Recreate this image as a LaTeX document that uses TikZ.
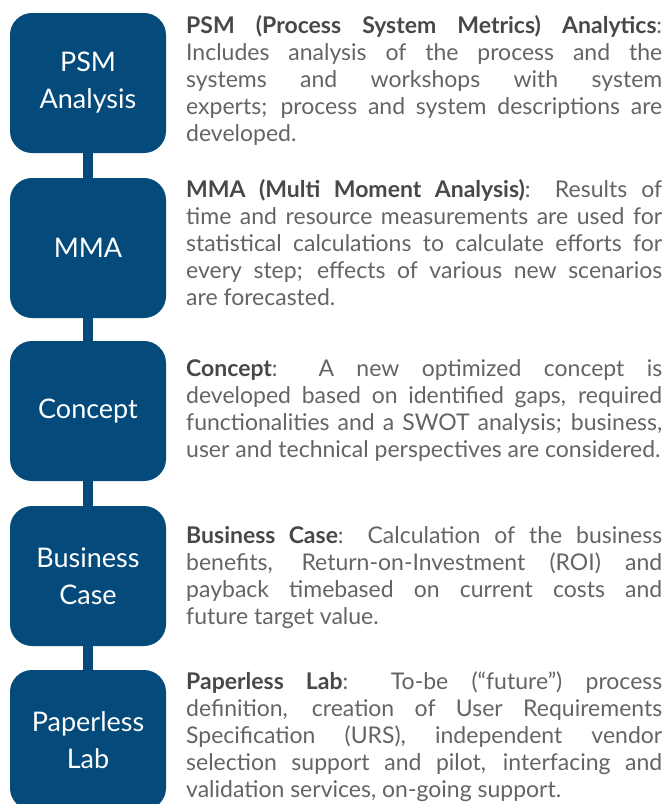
\documentclass[tikz,border=0pt]{standalone}
\usepackage{fontspec}
\setmainfont{Lato}
\usetikzlibrary{shapes}
\definecolor{stepblue}{RGB}{4,74,122}
\definecolor{bodygray}{RGB}{100,100,100}
\definecolor{headgray}{RGB}{72,72,72}
\newcommand{\hd}[1]{\textbf{\color{headgray}#1}}
\hyphenpenalty=10000

\begin{document}
\begin{tikzpicture}[x=1pt,y=1pt,
  stage/.style={draw=none,rectangle,rounded corners=22pt,fill=stepblue,minimum width=156pt,minimum height=140pt,text=white,align=center,font=\fontsize{27}{37}\selectfont},
  desc/.style={anchor=west,inner sep=0pt,text width=476pt,align=justify,text=bodygray,font=\fontsize{23}{27}\selectfont},
  link/.style={stepblue,line width=10pt}]
\useasboundingbox (0,0) rectangle (668,-804);
\node[stage] (PSM) at (88,-83) {PSM\\Analysis};
\node[stage] (MMA) at (88,-248) {MMA};
\node[stage] (CON) at (88,-411) {Concept};
\node[stage] (BUS) at (88,-576) {Business\\Case};
\node[stage] (LAB) at (88,-740) {Paperless\\Lab};
\draw[link] (PSM.south) -- (MMA.north);
\draw[link] (MMA.south) -- (CON.north);
\draw[link] (CON.south) -- (BUS.north);
\draw[link] (BUS.south) -- (LAB.north);
\node[desc] (PSMtxt) at (186,-80) {\hd{PSM (Process System Metrics) Analytics}:\linebreak
Includes analysis of the process and the\linebreak
systems and workshops with system\linebreak
experts; process and system descriptions are\linebreak
developed.};
\node[desc] (MMAtxt) at (186,-243) {\hd{MMA (Multi Moment Analysis)}: Results of\linebreak
time and resource measurements are used for\linebreak
statistical calculations to calculate efforts for\linebreak
every step; effects of various new scenarios\linebreak
are forecasted.};
\node[desc] (CONtxt) at (186,-410) {\hd{Concept}: A new optimized concept is\linebreak
developed based on identified gaps, required\linebreak
functionalities and a SWOT analysis; business,\linebreak
user and technical perspectives are considered.};
\node[desc] (BUStxt) at (186,-578) {\hd{Business Case}: Calculation of the business\linebreak
benefits, Return-on-Investment (ROI) and\linebreak
payback timebased on current costs and\linebreak
future target value.};
\node[desc] (LABtxt) at (186,-737) {\hd{Paperless Lab}: To-be (“future”) process\linebreak
definition, creation of User Requirements\linebreak
Specification (URS), independent vendor\linebreak
selection support and pilot, interfacing and\linebreak
validation services, on-going support.};
\end{tikzpicture}
\end{document}
